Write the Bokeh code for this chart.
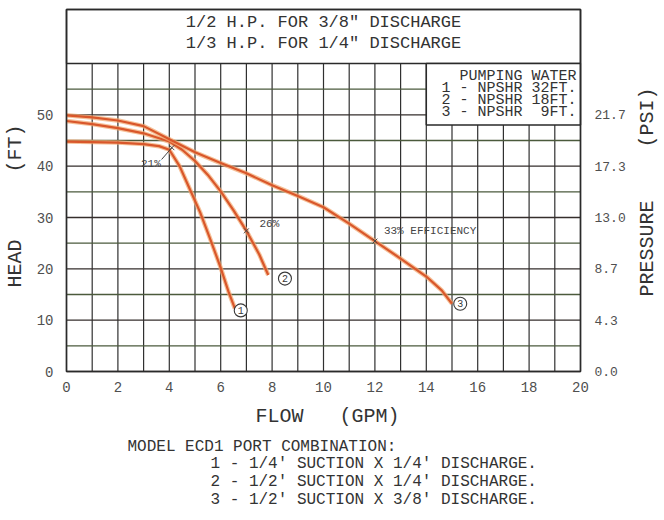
import math
from bokeh.plotting import figure
from bokeh.models import Range1d
from bokeh.core.properties import value
from bokeh.embed import file_html
from bokeh.resources import INLINE

# ---------------- data ----------------
flow_ticks = [0, 2, 4, 6, 8, 10, 12, 14, 16, 18, 20]
head_ticks = [0, 10, 20, 30, 40, 50]
psi_ticks = [0.0, 4.3, 8.7, 13.0, 17.3, 21.7]
flow_grid = list(range(0, 21))
head_grid_major = [0, 10, 20, 30, 40, 50]
head_grid_minor = [5, 15, 25, 35, 45, 55]
PSI_PER_FT = 0.4335

curve1_flow = [0, 1, 2, 3, 3.6, 4.0, 4.4, 4.8, 5.2, 5.6, 6.0, 6.3, 6.55]
curve1_head = [44.8, 44.7, 44.6, 44.3, 43.9, 43.2, 40.0, 35.5, 31.0, 25.7, 20.2, 15.6, 12.3]

curve2_flow = [0, 1, 2, 3, 4.0, 4.5, 5.0, 5.5, 6.0, 6.5, 7.0, 7.5, 7.85]
curve2_head = [48.8, 48.2, 47.4, 46.4, 44.8, 43.2, 41.0, 38.3, 35.1, 31.4, 27.4, 22.8, 18.8]

curve3_flow = [0, 1, 2, 3, 4.1, 5, 6, 7, 8, 9, 10, 11, 12, 13, 14, 14.6, 15.0]
curve3_head = [49.9, 49.5, 48.9, 47.8, 45.0, 42.7, 40.6, 38.6, 36.3, 34.2, 32.0, 28.8, 25.4, 22.0, 18.5, 15.8, 13.2]

curve_ids = ["1", "2", "3"]
id_flow = [6.78, 8.5, 15.32]
id_head = [11.9, 18.1, 13.2]

eff_flow = [4.1, 7.0, 12.0]
eff_head = [43.6, 27.4, 25.4]
eff_text = ["21%", "26%", "33% EFFICIENCY"]

title_lines = ['1/2 H.P. FOR 3/8" DISCHARGE', '1/3 H.P. FOR 1/4" DISCHARGE']
legend_title = "PUMPING WATER"
legend_lines = ["1 - NPSHR 32FT.", "2 - NPSHR 18FT.", "3 - NPSHR\u00a0 9FT."]
model_title = "MODEL ECD1 PORT COMBINATION:"
model_lines = ["1 - 1/4' SUCTION X 1/4' DISCHARGE.",
               "2 - 1/2' SUCTION X 1/4' DISCHARGE.",
               "3 - 1/2' SUCTION X 3/8' DISCHARGE."]

# ---------------- layout (page pixels) ----------------
W, H = 664, 520
GL, GR, G60, G0 = 66, 580, 63, 371      # grid box: x=0, x=20, head=60, head=0
BOX_TOP_PX = 9
PX_PER_GPM = (GR - GL) / 20.0
PX_PER_FT = (G0 - G60) / 60.0
BOX_TOP = (G0 - BOX_TOP_PX) / PX_PER_FT
LEG_BOTTOM = 48

FONT = value("Liberation Mono")
INK = "#333333"
TICK_INK = "#4f4f4f"
CURVE = "#d9572b"
GLOW = "#f2a66e"


def at(X, Y):
    """page pixel -> data coordinates (only used to place free text)"""
    return (X - GL) / PX_PER_GPM, (G0 - Y) / PX_PER_FT


p = figure(width=W, height=H,
           x_range=Range1d(-GL / PX_PER_GPM, 20 + (W - GR) / PX_PER_GPM),
           y_range=Range1d(-(H - G0) / PX_PER_FT, G0 / PX_PER_FT),
           output_backend="svg", toolbar_location=None, title_location=None,
           x_axis_location=None, y_axis_location=None, min_border=0)
p.grid.visible = False
p.outline_line_color = None
p.background_fill_color = "white"
p.border_fill_color = "white"

# grid lines
n = len(flow_grid)
p.segment(x0=flow_grid, y0=[0] * n, x1=flow_grid, y1=[60] * n,
          line_color="#303030", line_width=1.2)
p.segment(x0=[0] * len(head_grid_minor), y0=head_grid_minor,
          x1=[20] * len(head_grid_minor), y1=head_grid_minor,
          line_color="#4b5a3c", line_width=1.3)
p.segment(x0=[0] * len(head_grid_major), y0=head_grid_major,
          x1=[20] * len(head_grid_major), y1=head_grid_major,
          line_color="#352e2c", line_width=1.3)

# title box and legend box
p.quad(left=[0], right=[20], bottom=[60], top=[BOX_TOP], fill_color="white",
       line_color="#2a2a2a", line_width=1.5)
p.quad(left=[14], right=[20], bottom=[LEG_BOTTOM], top=[60], fill_color="white",
       line_color="#2a2a2a", line_width=1.5)

# curves
for fx, hy in ((curve1_flow, curve1_head), (curve2_flow, curve2_head), (curve3_flow, curve3_head)):
    p.line(fx, hy, line_color=GLOW, line_width=4.5, line_alpha=0.7, line_join="round")
    p.line(fx, hy, line_color=CURVE, line_width=2.2, line_join="round")

# outer frame
p.quad(left=[0], right=[20], bottom=[0], top=[BOX_TOP], fill_color=None,
       line_color="#2a2a2a", line_width=1.6)

# curve identifiers
p.scatter(id_flow, id_head, marker="circle", size=13, fill_color="white",
          line_color="#3a3a3a", line_width=1.1)
p.text(id_flow, id_head, text=curve_ids, text_font=FONT, text_font_size="10px",
       text_color="#3a3a3a", text_align="center", text_baseline="middle")

# efficiency marks
p.scatter(eff_flow, eff_head, marker="x", size=7, line_color="#444444", line_width=1)
p.line([eff_flow[0] - 0.4, eff_flow[0]], [eff_head[0] - 2.3, eff_head[0]],
       line_color="#444444", line_width=1)
for i, (dx, dy, al) in enumerate(((-21, 16, "center"), (23, -7, "center"), (9, -10, "left"))):
    p.text([eff_flow[i]], [eff_head[i]], text=[eff_text[i]], text_font=FONT,
           text_font_size="11px", text_color="#444444", text_align=al,
           text_baseline="middle", x_offset=dx, y_offset=dy)

# tick labels
p.text(flow_ticks, [0] * len(flow_ticks), text=[str(t) for t in flow_ticks],
       text_font=FONT, text_font_size="14px", text_color=TICK_INK,
       text_align="center", text_baseline="middle", y_offset=15)
p.text([0] * len(head_ticks), head_ticks, text=[str(t) for t in head_ticks],
       text_font=FONT, text_font_size="14px", text_color=TICK_INK,
       text_align="right", text_baseline="middle", x_offset=-13)
p.text([20] * len(psi_ticks), [v / PSI_PER_FT for v in psi_ticks],
       text=["%.1f" % v for v in psi_ticks],
       text_font=FONT, text_font_size="13px", text_color=TICK_INK,
       text_align="left", text_baseline="middle", x_offset=14)


def label(X, Y, text, size, align="center", angle=0.0, color=INK):
    x, y = at(X, Y)
    p.text([x], [y], text=[text], text_font=FONT, text_font_size=size,
           text_color=color, text_align=align, text_baseline="middle", angle=angle)


# title
label(323, 22, title_lines[0], "17px")
label(323, 43, title_lines[1], "17px")

# legend
label(576, 76, legend_title, "15px", align="right")
for i, t in enumerate(legend_lines):
    label(576, 88 + 12 * i, t, "15px", align="right")

# axis titles
label(15, 263, "HEAD", "20px", angle=math.pi / 2)
label(15, 148, "(FT)", "20px", angle=math.pi / 2)
label(647, 248, "PRESSURE", "20px", angle=math.pi / 2)
label(647, 117, "(PSI)", "20px", angle=math.pi / 2)
label(279, 416, "FLOW", "20px")
label(369, 416, "(GPM)", "20px")

# model text
label(127, 446, model_title, "16px", align="left")
for i, t in enumerate(model_lines):
    label(210, 463 + 18 * i, t, "16px", align="left")

open("out.html", "w").write(file_html(p, INLINE))
